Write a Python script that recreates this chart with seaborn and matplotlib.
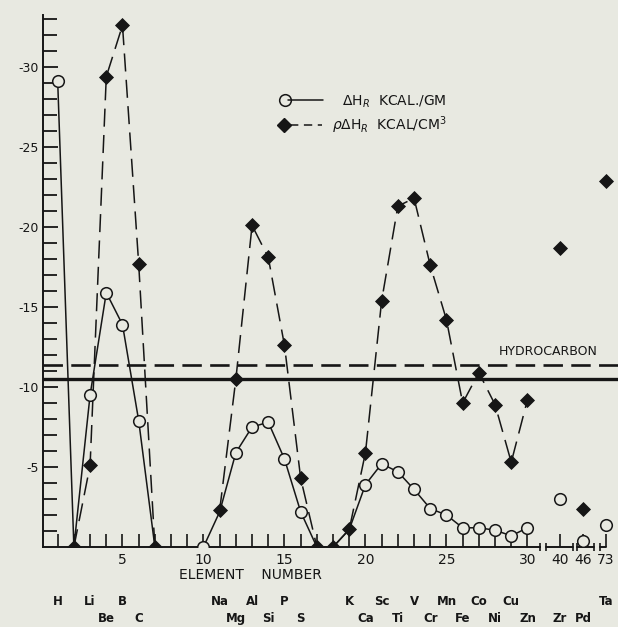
import numpy as np
import pandas as pd
import seaborn as sns
import matplotlib
matplotlib.use('Agg')
import matplotlib.pyplot as plt

# Heat of reaction (oxidation) by element
# open circles: kcal/gm, filled diamonds: kcal/cm3
elements_gm = [1, 2, 3, 4, 5, 6, 7, 10, 11, 12, 13, 14, 15, 16, 17, 18, 19, 20,
               21, 22, 23, 24, 25, 26, 27, 28, 29, 30]
dh_gm = [-29.1, 0, -9.5, -15.9, -13.9, -7.9, 0, 0, -2.2, -5.9, -7.5, -7.8, -5.5, -2.2,
         0, 0, -1.1, -3.9, -5.2, -4.7, -3.6, -2.4, -2.0, -1.2, -1.2, -1.05, -0.7, -1.2]
gm_under_diamond = [2, 7, 11, 17, 18, 19]   # circles hidden behind a diamond

elements_cm3 = [2, 3, 4, 5, 6, 7, 11, 12, 13, 14, 15, 16, 17, 18, 19, 20,
                21, 22, 23, 24, 25, 26, 27, 28, 29, 30]
dh_cm3 = [0, -5.1, -29.4, -32.6, -17.7, 0, -2.3, -10.5, -20.1, -18.1, -12.6, -4.3,
          0, 0, -1.1, -5.9, -15.4, -21.3, -21.8, -17.6, -14.2, -9.0, -10.9, -8.9, -5.3, -9.2]

heavy_elements = [40, 46, 73]
heavy_gm = [-3.0, -0.4, -1.4]
heavy_cm3 = [-18.7, -2.4, -22.9]

hydrocarbon_gm = -10.5
hydrocarbon_cm3 = -11.4

symbols = ['H', 'Li', 'Be', 'B', 'C', 'Na', 'Mg', 'Al', 'Si', 'P', 'S',
           'K', 'Ca', 'Sc', 'Ti', 'V', 'Cr', 'Mn', 'Fe', 'Co', 'Ni', 'Cu', 'Zn',
           'Zr', 'Pd', 'Ta']
symbol_z = [1, 3, 4, 5, 6, 11, 12, 13, 14, 15, 16,
            19, 20, 21, 22, 23, 24, 25, 26, 27, 28, 29, 30,
            40, 46, 73]

# broken x axis: the heavy elements sit in squeezed slots after 30
heavy_slot = {40: 32.0, 46: 33.43, 73: 34.85}

def slot(z):
    return heavy_slot.get(z, z)

ink = '#161616'
paper = '#e8e9e1'

sns.set_style('white')
plt.rcParams['font.family'] = ['DejaVu Sans']
plt.rcParams['axes.unicode_minus'] = False
plt.rcParams['lines.scale_dashes'] = False

gm = pd.DataFrame({'z': elements_gm, 'dh': dh_gm})
gm['seg'] = (gm['z'].diff() > 1).cumsum()
cm3 = pd.DataFrame({'z': elements_cm3, 'dh': dh_cm3})
cm3['seg'] = (cm3['z'].diff() > 1).cumsum()
heavy = pd.DataFrame({'x': [slot(z) for z in heavy_elements],
                      'gm': heavy_gm, 'cm3': heavy_cm3})

fig = plt.figure(figsize=(6.18, 6.27), dpi=100, facecolor=paper)
ax = fig.add_axes([43 / 618, 80 / 627, 575 / 618, 532 / 627])
ax.set_facecolor(paper)

# hydrocarbon reference levels
ax.axhline(hydrocarbon_gm, color=ink, lw=2.4)
ax.axhline(hydrocarbon_cm3, color=ink, lw=1.9, ls=(0, (14, 6)))
ax.text(31.27, -12.2, 'HYDROCARBON', color=ink, fontsize=9, ha='center', va='center')

# lines
sns.lineplot(data=gm, x='z', y='dh', units='seg', estimator=None, color=ink,
             lw=1.1, ax=ax)
sns.lineplot(data=cm3, x='z', y='dh', units='seg', estimator=None, color=ink,
             lw=1.1, ls=(0, (13, 6)), ax=ax)

# markers
circles = gm[~gm['z'].isin(gm_under_diamond)]
sns.scatterplot(x=list(circles['z']) + list(heavy['x']),
                y=list(circles['dh']) + list(heavy['gm']),
                marker='o', s=70, facecolor=paper, edgecolor=ink, linewidth=1.1,
                zorder=4, ax=ax)
sns.scatterplot(x=list(cm3['z']) + list(heavy['x']),
                y=list(cm3['dh']) + list(heavy['cm3']),
                marker='D', s=50, color=ink, edgecolor=ink, linewidth=0.6,
                zorder=5, ax=ax)

# axes
ax.set_xlim(0.093, 35.59)
ax.set_ylim(0, -33.25)
sns.despine(ax=ax)
for side in ['left', 'bottom']:
    ax.spines[side].set_color(ink)
    ax.spines[side].set_linewidth(1.4)
ax.spines['bottom'].set_bounds(0.093, 30.77)

xt = list(range(1, 31)) + [slot(z) for z in heavy_elements]
xl = [str(z) if z % 5 == 0 else '' for z in range(1, 31)] + [str(z) for z in heavy_elements]
ax.set_xticks(xt, xl)
ax.tick_params(axis='x', bottom=True, direction='in', length=9.4, width=1.2,
               colors=ink, pad=4, labelsize=10)

ax.set_yticks(range(-5, -31, -5), [str(v) for v in range(-5, -31, -5)])
ax.set_yticks(range(-1, -34, -1), minor=True)
ax.tick_params(axis='y', which='both', left=True, direction='in', length=10,
               width=1.3, colors=ink, pad=3, labelsize=9)
ax.tick_params(axis='y', which='major', length=11)

# break marks on the x axis
for a, b in [(31.14, 32.81), (33.05, 34.1), (34.48, 34.85)]:
    ax.plot([a, b], [0, 0], color=ink, lw=1.4, clip_on=False)
for xc in [30.77, 31.14, 32.81, 33.05, 34.1, 34.48]:
    ax.plot([xc], [0], marker='|', ms=6, mew=1.2, color=ink, clip_on=False)
ax.set_xlabel('')
ax.set_ylabel('')

tr = ax.get_xaxis_transform()
ax.text(12.87, -0.053, 'ELEMENT    NUMBER', transform=tr, fontsize=10,
        color=ink, ha='center', va='center')
for sym, z in zip(symbols, symbol_z):
    row = -0.103 if z % 2 == 1 else -0.1335
    ax.text(slot(z), row, sym, transform=tr, fontsize=8.5, color=ink,
            ha='center', va='center', fontweight='bold')

# legend
ax.plot([15.03], [-27.94], marker='o', ms=8.4, mfc=paper, mec=ink, mew=1.1)
ax.plot([15.22, 17.38], [-27.94, -27.94], color=ink, lw=1.1)
ax.text(18.55, -27.6, r'$\Delta$H$_R$  KCAL./GM', fontsize=10, color=ink,
        va='baseline')
ax.plot([14.97], [-26.4], marker='D', ms=7.0, color=ink)
ax.plot([15.34, 17.31], [-26.4, -26.4], color=ink, lw=1.1, ls=(0, (6, 4)))
ax.text(17.93, -26.06, r'$\rho\Delta$H$_R$  KCAL/CM$^3$', fontsize=10, color=ink,
        va='baseline')

plt.savefig('out.png', dpi=100, facecolor=paper)
